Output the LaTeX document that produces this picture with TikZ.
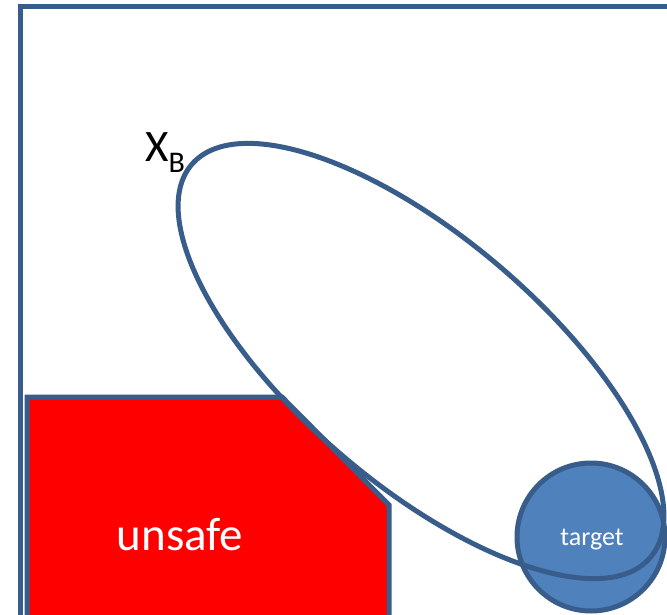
\documentclass[tikz,border=0pt]{standalone}
\usepackage{fontspec}
\setmainfont{Carlito}
\definecolor{edgeblue}{HTML}{385D8A}
\definecolor{fillblue}{HTML}{4F81BD}
\definecolor{unsafered}{HTML}{FF0000}
\tikzset{
  outline/.style={draw=edgeblue, line width=5pt, line join=miter},
}
\begin{document}
\begin{tikzpicture}[x=1pt,y=1pt]
\useasboundingbox (0,0) rectangle (667,-615);
\begin{scope}
\clip (0,0) rectangle (667,-615);
\draw[outline, fill=white] (20,-7) rectangle (700,-650);
\draw[outline, fill=unsafered] (27,-397) -- (282,-397) -- (389,-505) -- (389,-640) -- (27,-640) -- cycle;
\node[anchor=base, text=white, inner sep=0] (unsafe) at (180,-550) {\fontsize{47}{47}\selectfont unsafe};
\draw[outline, fill=fillblue] (591,-537) circle (74);
\node[anchor=base, text=white, inner sep=0] (target) at (592,-545) {\fontsize{26}{26}\selectfont target};
\draw[outline, rotate around={-40.6:(421,-361)}] (421,-361) ellipse (302 and 123);
\node[anchor=base west, inner sep=0] (xb) at (145,-162) {\fontsize{45}{45}\selectfont X\raisebox{-11pt}{\fontsize{30}{30}\selectfont B}};
\end{scope}
\end{tikzpicture}
\end{document}
